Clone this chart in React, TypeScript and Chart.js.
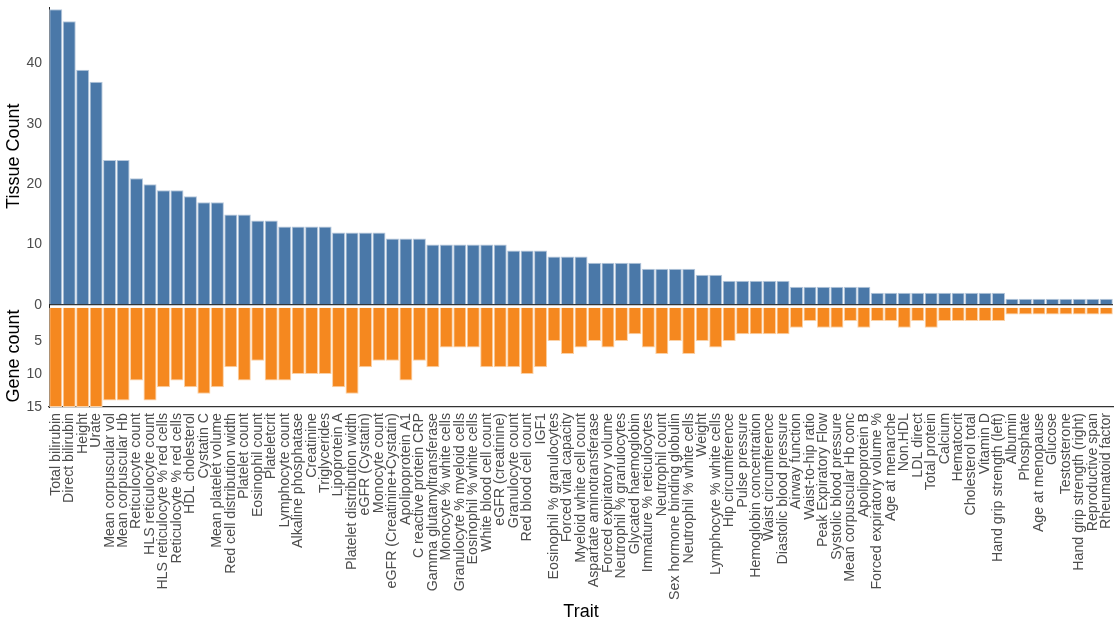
import React, { useEffect, useRef } from 'react';
import { Chart, registerables } from 'chart.js';

Chart.register(...registerables);

const traits = [
  'Total bilirubin', 'Direct bilirubin', 'Height', 'Urate', 'Mean corpuscular vol',
  'Mean corpuscular Hb', 'Reticulocyte count', 'HLS reticulocyte count', 'HLS reticulocyte % red cells',
  'Reticulocyte % red cells', 'HDL cholesterol', 'Cystatin C', 'Mean platelet volume',
  'Red cell distribution width', 'Platelet count', 'Eosinophil count', 'Plateletcrit',
  'Lymphocyte count', 'Alkaline phosphatase', 'Creatinine', 'Triglycerides', 'Lipoprotein A',
  'Platelet distribution width', 'eGFR (Cystatin)', 'Monocyte count', 'eGFR (Creatinine+Cystatin)',
  'Apolipoprotein A1', 'C reactive protein CRP', 'Gamma glutamyltransferase', 'Monocyte % white cells',
  'Granulocyte % myeloid cells', 'Eosinophil % white cells', 'White blood cell count', 'eGFR (creatinine)',
  'Granulocyte count', 'Red blood cell count', 'IGF1', 'Eosinophil % granulocytes', 'Forced vital capacity',
  'Myeloid white cell count', 'Aspartate aminotransferase', 'Forced expiratory volume',
  'Neutrophil % granulocytes', 'Glycated haemoglobin', 'Immature % reticulocytes', 'Neutrophil count',
  'Sex hormone binding globulin', 'Neutrophil % white cells', 'Weight', 'Lymphocyte % white cells',
  'Hip circumference', 'Pulse pressure', 'Hemoglobin concentration', 'Waist circumference',
  'Diastolic blood pressure', 'Airway function', 'Waist-to-hip ratio', 'Peak Expiratory Flow',
  'Systolic blood pressure', 'Mean corpuscular Hb conc', 'Apolipoprotein B', 'Forced expiratory volume %',
  'Age at menarche', 'Non.HDL', 'LDL direct', 'Total protein', 'Calcium', 'Hematocrit',
  'Cholesterol total', 'Vitamin D', 'Hand grip strength (left)', 'Albumin', 'Phosphate',
  'Age at menopause', 'Glucose', 'Testosterone', 'Hand grip strength (right)', 'Reproductive span',
  'Rheumatoid factor',
];

const tissueCounts = [
  49, 47, 39, 37, 24, 24, 21, 20, 19, 19,
  18, 17, 17, 15, 15, 14, 14, 13, 13, 13,
  13, 12, 12, 12, 12, 11, 11, 11, 10, 10,
  10, 10, 10, 10, 9, 9, 9, 8, 8, 8,
  7, 7, 7, 7, 6, 6, 6, 6, 5, 5,
  4, 4, 4, 4, 4, 3, 3, 3, 3, 3,
  3, 2, 2, 2, 2, 2, 2, 2, 2, 2,
  2, 1, 1, 1, 1, 1, 1, 1, 1,
];

const geneCounts = [
  15, 15, 15, 15, 14, 14, 11, 14, 12, 11,
  12, 13, 12, 9, 11, 8, 11, 11, 10, 10,
  10, 12, 13, 9, 8, 8, 11, 8, 9, 6,
  6, 6, 9, 9, 9, 10, 9, 5, 7, 6,
  5, 6, 5, 4, 6, 7, 5, 7, 5, 6,
  5, 4, 4, 4, 4, 3, 2, 3, 3, 2,
  3, 2, 2, 3, 2, 3, 2, 2, 2, 2,
  2, 1, 1, 1, 1, 1, 1, 1, 1,
];

const tissueTicks = [0, 10, 20, 30, 40];
const geneTicks = [0, 5, 10, 15];

const FONT = "'Liberation Sans', Arial, sans-serif";
const BLUE = '#4a78a8';
const BLUE_EDGE = '#b7c8dc';
const ORANGE = '#f5881f';
const ORANGE_EDGE = '#fbd0a4';
const TICK_COLOR = '#4d4d4d';

export default function App() {
  const ref = useRef<HTMLCanvasElement>(null);

  useEffect(() => {
    if (!ref.current) return;
    const chart = new Chart(ref.current, {
      type: 'bar',
      data: {
        labels: traits,
        datasets: [
          {
            label: 'Gene count',
            data: geneCounts,
            yAxisID: 'yGene',
            backgroundColor: ORANGE,
            borderColor: ORANGE_EDGE,
            borderWidth: 1,
            grouped: false,
            barPercentage: 0.97,
            categoryPercentage: 1,
          } as any,
          {
            label: 'Tissue Count',
            data: tissueCounts,
            yAxisID: 'yTissue',
            backgroundColor: BLUE,
            borderColor: BLUE_EDGE,
            borderWidth: 1,
            grouped: false,
            barPercentage: 0.97,
            categoryPercentage: 1,
          } as any,
        ],
      },
      options: {
        animation: false,
        responsive: true,
        maintainAspectRatio: false,
        layout: { padding: { top: 7.5, right: 6, left: 0, bottom: 0 } },
        plugins: {
          legend: { display: false },
          tooltip: { enabled: false },
        },
        scales: {
          x: {
            type: 'category',
            offset: true,
            grid: { display: false, drawTicks: false },
            border: { display: true, color: '#333', width: 1.3 },
            ticks: {
              autoSkip: false,
              minRotation: 90,
              maxRotation: 90,
              padding: 6,
              color: TICK_COLOR,
              font: { size: 14.2, family: FONT },
            },
            title: {
              display: true,
              text: 'Trait',
              color: '#000',
              font: { size: 18, family: FONT },
              padding: { top: 4, bottom: 5 },
            },
            afterFit: (s: any) => {
              s.height = 221;
              s.paddingLeft = 0;
              s.paddingRight = 0;
            },
          },
          yGene: {
            type: 'linear',
            position: 'left',
            stack: 'panels',
            stackWeight: 102,
            reverse: true,
            min: -0.45,
            max: 15,
            afterBuildTicks: (s: any) => { s.ticks = geneTicks.map((v) => ({ value: v })); },
            grid: { display: false, drawTicks: false },
            border: { display: true, color: '#222', width: 1 },
            ticks: {
              padding: 7,
              // the gene panel's 0 sits under the tissue panel's 0 in the reference
              color: (ctx: any) => (ctx.tick && ctx.tick.value === 0 ? 'rgba(0,0,0,0)' : TICK_COLOR),
              font: { size: 14, family: FONT },
            },
            title: {
              display: true,
              text: 'Gene count',
              color: '#000',
              font: { size: 18, family: FONT },
              padding: { top: 3, bottom: 0 },
            },
            afterFit: (s: any) => {
              s.width = 49;
              s.paddingTop = 0;
              s.paddingBottom = 0;
            },
          },
          yTissue: {
            type: 'linear',
            position: 'left',
            stack: 'panels',
            stackWeight: 297,
            min: 0,
            max: 49.3,
            afterBuildTicks: (s: any) => { s.ticks = tissueTicks.map((v) => ({ value: v })); },
            grid: {
              display: true,
              drawTicks: false,
              lineWidth: 1.3,
              color: (ctx: any) => (ctx.tick && ctx.tick.value === 0 ? '#333' : 'rgba(0,0,0,0)'),
            },
            border: { display: true, color: '#222', width: 1 },
            ticks: { padding: 7, color: TICK_COLOR, font: { size: 14, family: FONT } },
            title: {
              display: true,
              text: 'Tissue Count',
              color: '#000',
              font: { size: 18, family: FONT },
              padding: { top: 3, bottom: 0 },
            },
            afterFit: (s: any) => {
              s.width = 49;
              s.paddingTop = 0;
              s.paddingBottom = 0;
            },
          },
        },
      } as any,
    });
    return () => chart.destroy();
  }, []);

  return (
    <div style={{ position: 'absolute', left: 0, top: 0, width: 1119, height: 628, background: '#fff' }}>
      <canvas ref={ref} />
    </div>
  );
}
